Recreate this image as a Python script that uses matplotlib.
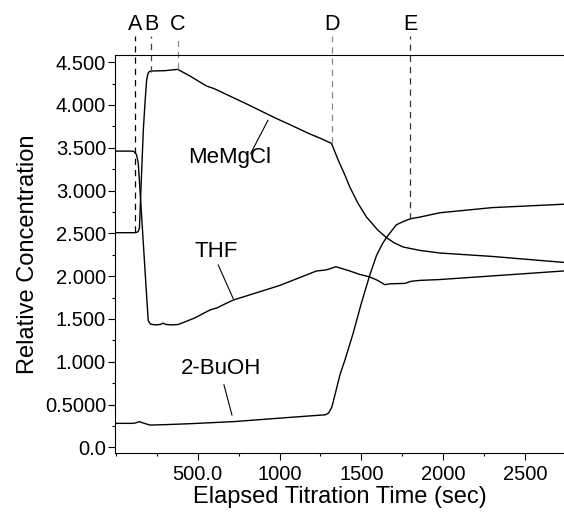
import matplotlib
matplotlib.use("Agg")
import matplotlib.pyplot as plt
from matplotlib.ticker import FixedLocator, FixedFormatter, MultipleLocator

plt.rcParams['font.family'] = ['Liberation Sans', 'DejaVu Sans']

# MeMgCl trace (starts at 2.5)
t_mg = [0, 110, 125, 135, 143, 150, 160, 167, 177, 187, 196, 204, 218, 300, 377, 450, 554, 600,
        800, 982, 1063, 1186, 1250, 1318, 1360, 1400, 1430, 1480, 1532, 1600, 1654, 1700, 1756,
        1860, 1980, 2300, 2740]
c_mg = [2.507, 2.507, 2.51, 2.52, 2.56, 2.90, 3.38, 3.71, 4.02, 4.29, 4.37, 4.39, 4.396, 4.40,
        4.415, 4.34, 4.22, 4.19, 4.01, 3.84, 3.77, 3.66, 3.61, 3.55, 3.35, 3.18, 3.04, 2.85, 2.69,
        2.54, 2.45, 2.39, 2.34, 2.30, 2.27, 2.23, 2.16]

# THF trace (starts at 3.46)
t_thf = [0, 95, 110, 125, 136, 150, 170, 190, 197, 210, 240, 270, 289, 305, 340, 381, 480, 575,
         620, 650, 716, 850, 1000, 1226, 1276, 1300, 1345, 1430, 1490, 1553, 1600, 1644, 1675,
         1767, 1790, 1807, 1858, 1980, 2738]
c_thf = [3.46, 3.46, 3.455, 3.42, 3.32, 2.90, 2.29, 1.68, 1.48, 1.44, 1.43, 1.435, 1.45, 1.435,
         1.43, 1.435, 1.51, 1.605, 1.63, 1.66, 1.72, 1.80, 1.89, 2.06, 2.07, 2.08, 2.11, 2.06,
         2.02, 1.99, 1.95, 1.90, 1.91, 1.915, 1.93, 1.94, 1.95, 1.96, 2.06]

# 2-BuOH trace
t_bu = [0, 100, 120, 142, 165, 208, 300, 452, 717, 1064, 1280, 1300, 1320, 1340, 1370, 1400,
        1450, 1500, 1550, 1593, 1630, 1654, 1690, 1715, 1760, 1800, 1860, 1980, 2300, 2740]
c_bu = [0.28, 0.28, 0.285, 0.30, 0.285, 0.26, 0.265, 0.276, 0.30, 0.35, 0.38, 0.40, 0.47, 0.62,
        0.85, 1.02, 1.33, 1.68, 2.00, 2.24, 2.38, 2.45, 2.54, 2.60, 2.64, 2.67, 2.69, 2.74, 2.80,
        2.84]

# event markers: name, time, where the dashed line stops
ev_names = ['A', 'B', 'C', 'D', 'E']
ev_times = [118, 216, 377, 1318, 1800]
ev_ends = [2.52, 4.39, 4.415, 3.55, 2.67]
ev_colors = ['black', '#444444', '#888888', '#888888', '#333333']

y_ticks = [0, 0.5, 1, 1.5, 2, 2.5, 3, 3.5, 4, 4.5]
y_labels = ['0.0', '0.5000', '1.000', '1.500', '2.000', '2.500', '3.000', '3.500', '4.000', '4.500']
x_ticks = [500, 1000, 1500, 2000, 2500]
x_labels = ['500.0', '1000', '1500', '2000', '2500']

fig = plt.figure(figsize=(5.64, 5.13), dpi=100)
ax = fig.add_axes([0.204, 0.1175, 0.796, 0.7753])

ax.plot(t_mg, c_mg, color='black', lw=1.0)
ax.plot(t_thf, c_thf, color='black', lw=1.0)
ax.plot(t_bu, c_bu, color='black', lw=1.0)

ax.set_xlim(-6, 2740)
ax.set_ylim(-0.063, 4.583)

top_y = 4.806
for name, t, y_end, col in zip(ev_names, ev_times, ev_ends, ev_colors):
    ax.plot([t, t], [y_end, top_y], color=col, lw=0.9, dashes=(5, 4), clip_on=False)
    ax.text(t, 4.875, name, ha='center', va='baseline', fontsize=15.5, clip_on=False)

# curve labels with pointer lines
ax.text(697, 3.38, 'MeMgCl', ha='center', va='center', fontsize=16)
ax.plot([823, 929], [3.43, 3.82], color='black', lw=0.8)
ax.text(611, 2.285, 'THF', ha='center', va='center', fontsize=16)
ax.plot([625, 716], [2.13, 1.74], color='black', lw=0.8)
ax.text(643, 0.92, '2-BuOH', ha='center', va='center', fontsize=16)
ax.plot([660, 709], [0.73, 0.377], color='black', lw=0.8)

ax.yaxis.set_major_locator(FixedLocator(y_ticks))
ax.yaxis.set_major_formatter(FixedFormatter(y_labels))
ax.yaxis.set_minor_locator(MultipleLocator(0.25))
ax.xaxis.set_major_locator(FixedLocator(x_ticks))
ax.xaxis.set_major_formatter(FixedFormatter(x_labels))
ax.xaxis.set_minor_locator(MultipleLocator(250))

ax.tick_params(which='major', length=5, width=0.8, labelsize=14.5, direction='out')
ax.tick_params(which='minor', length=2.5, width=0.8, direction='out')
ax.tick_params(axis='y', pad=1.5)
ax.spines['right'].set_visible(False)

ax.set_xlabel('Elapsed Titration Time (sec)', fontsize=17, labelpad=2)
ax.set_ylabel('Relative Concentration', fontsize=17, labelpad=4)

fig.savefig('out.png', dpi=100)
